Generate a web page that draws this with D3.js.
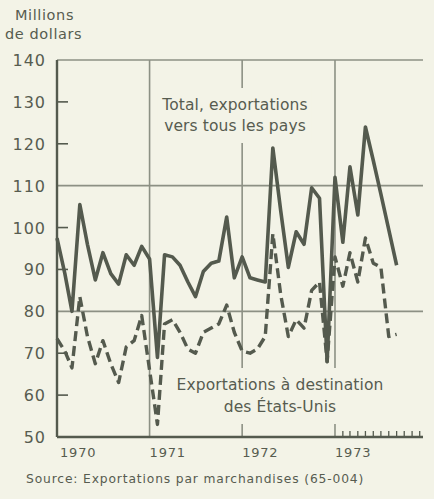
<!DOCTYPE html>
<html><head><meta charset="utf-8">
<script src="https://cdn.jsdelivr.net/npm/d3@7/dist/d3.min.js"></script>
<style>
html,body{margin:0;padding:0;background:#f3f3e7;}
svg{display:block;}
text{font-family:"DejaVu Sans",sans-serif;fill:#575c50;}
</style></head>
<body>
<script>
// ---- data ----
const months = [
 "1970-01","1970-02","1970-03","1970-04","1970-05","1970-06","1970-07","1970-08","1970-09","1970-10","1970-11","1970-12",
 "1971-01","1971-02","1971-03","1971-04","1971-05","1971-06","1971-07","1971-08","1971-09","1971-10","1971-11","1971-12",
 "1972-01","1972-02","1972-03","1972-04","1972-05","1972-06","1972-07","1972-08","1972-09","1972-10","1972-11","1972-12",
 "1973-01","1973-02","1973-03","1973-04","1973-05","1973-06","1973-07","1973-08","1973-09"
];
const totalExports = [
 97.5, 89, 80, 105.5, 96, 87.5, 94, 89, 86.5, 93.5, 91, 95.5,
 92.5, 69, 93.5, 93, 91, 87, 83.5, 89.5, 91.5, 92, 102.5, 88,
 93, 88, 87.5, 87, 119, 104, 90.5, 99, 96, 109.5, 107, 68,
 112, 96.5, 114.5, 103, 124, 116, 108, 99.5, 91
];
const usExports = [
 73.5, 70.5, 66.5, 83.5, 74, 67.5, 73, 67.5, 63, 71.5, 73, 79,
 66, 53, 77, 78, 75, 71, 70, 75, 76, 77, 81.5, 75,
 70.5, 70, 71, 74, 98.5, 84, 74, 78, 76, 85, 87, 68,
 93, 86, 94, 87, 97.5, 91.5, 90.5, 74, 74.5
];
const yTicks = [50, 60, 70, 80, 90, 100, 110, 120, 130, 140];
const yGrid = [80, 110];
const yearLabels = ["1970", "1971", "1972", "1973"];
const unitLabel = ["Millions", "de dollars"];
const totalLabel = ["Total, exportations", "vers tous les pays"];
const usLabel = ["Exportations à destination", "des États-Unis"];
const sourceText = "Source: Exportations par marchandises (65-004)";

// ---- layout ----
const W = 434, H = 499;
const ink = "#545a4e", gridc = "#8c9084";
const parse = d3.timeParse("%Y-%m");
const x = d3.scaleTime().domain([new Date(1970,0,1), new Date(1973,11,14)]).range([57, 423]);
const y = d3.scaleLinear().domain([50, 140]).range([437, 60]);

const svg = d3.select("body").append("svg").attr("width", W).attr("height", H);
svg.append("rect").attr("width", W).attr("height", H).attr("fill", "#f3f3e7");

// unit label
svg.selectAll("text.unit").data(unitLabel).join("text")
  .attr("x", (d,i) => i === 0 ? 15 : 5).attr("y", (d,i) => 20 + i*19)
  .attr("font-size", 14.5).attr("letter-spacing", 0.6).text(d => d);

// horizontal grid lines
svg.selectAll("line.hg").data(yGrid).join("line")
  .attr("x1", 57).attr("x2", 423).attr("y1", d => y(d)).attr("y2", d => y(d))
  .attr("stroke", gridc).attr("stroke-width", 1.6);
// top border
svg.append("line").attr("x1", 57).attr("x2", 423).attr("y1", y(140)).attr("y2", y(140))
  .attr("stroke", gridc).attr("stroke-width", 1.6);

// vertical year lines
const yearDates = yearLabels.map(d => new Date(+d, 0, 1));
svg.selectAll("line.vg").data(yearDates.slice(1)).join("line")
  .attr("x1", d => x(d)).attr("x2", d => x(d)).attr("y1", y(140)).attr("y2", y(50))
  .attr("stroke", gridc).attr("stroke-width", 1.6);

// 1973 monthly ticks
const mt = d3.range(1, 12).map(m => new Date(1973, m, 1));
svg.selectAll("line.mt").data(mt).join("line")
  .attr("x1", d => x(d)).attr("x2", d => x(d)).attr("y1", y(50) - 6).attr("y2", y(50))
  .attr("stroke", ink).attr("stroke-width", 1.3);

// y ticks
svg.selectAll("line.yt").data(yTicks.filter(v => v !== 50 && v !== 140 && !yGrid.includes(v))).join("line")
  .attr("x1", 57).attr("x2", 68).attr("y1", d => y(d)).attr("y2", d => y(d))
  .attr("stroke", ink).attr("stroke-width", 1.6);
svg.selectAll("text.yl").data(yTicks).join("text")
  .attr("x", 46).attr("y", d => y(d) + 6).attr("text-anchor", "end")
  .attr("font-size", 16).attr("letter-spacing", 1).text(d => d);

// label knockouts and text
function block(lines, cx, y0, dy) {
  const g = svg.append("g");
  g.selectAll("text").data(lines).join("text")
    .attr("x", cx).attr("y", (d,i) => y0 + i*dy).attr("text-anchor", "middle")
    .attr("font-size", 15.5).attr("letter-spacing", 0.1).text(d => d);
  const bb = g.node().getBBox();
  g.insert("rect", "text").attr("x", bb.x - 4).attr("y", bb.y - 8).attr("width", bb.width + 8)
    .attr("height", bb.height + 16).attr("fill", "#f3f3e7");
}
block(totalLabel, 235, 110, 21);
block(usLabel, 280, 390, 22);

// axes
svg.append("line").attr("x1", 57).attr("x2", 57).attr("y1", y(140)).attr("y2", y(50))
  .attr("stroke", ink).attr("stroke-width", 2.4);
svg.append("line").attr("x1", 57).attr("x2", 423).attr("y1", y(50)).attr("y2", y(50))
  .attr("stroke", ink).attr("stroke-width", 2.4);

// year labels
svg.selectAll("text.xl").data(yearDates).join("text")
  .attr("x", (d,i) => x(d) + (i === 0 ? 3 : 0)).attr("y", 457)
  .attr("font-size", 13).attr("letter-spacing", 0.8).text((d,i) => yearLabels[i]);

// data lines
const pts = a => months.map((m,i) => [parse(m), a[i]]);
const line = d3.line().x(d => x(d[0])).y(d => y(d[1]));
svg.append("path").attr("d", line(pts(usExports))).attr("fill", "none")
  .attr("stroke", ink).attr("stroke-width", 3.4).attr("stroke-dasharray", "10,5")
  .attr("stroke-linejoin", "round");
svg.append("path").attr("d", line(pts(totalExports))).attr("fill", "none")
  .attr("stroke", ink).attr("stroke-width", 3.6).attr("stroke-linejoin", "round");

// source
svg.append("text").attr("x", 26).attr("y", 483).attr("font-size", 12.3)
  .attr("letter-spacing", 0.85).text(sourceText);
</script>
</body></html>
